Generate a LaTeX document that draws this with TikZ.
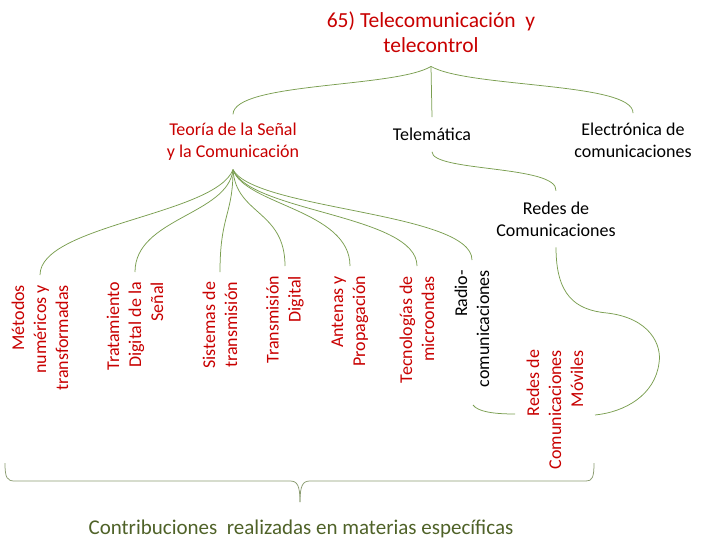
\documentclass[tikz,border=0pt]{standalone}
\usepackage{fontspec}
\setmainfont{Carlito}
\definecolor{rojotexto}{HTML}{C80000}
\definecolor{verdelinea}{HTML}{7A9E50}
\definecolor{verdegris}{HTML}{8A9B70}
\definecolor{verdeoscuro}{HTML}{4F6228}
\tikzset{
	rama/.style={draw=verdelinea, line width=0.75pt},
	cuerpo/.style={inner sep=0pt, align=center, font=\fontsize{18}{22}\selectfont},
	rojo/.style={cuerpo, text=rojotexto},
	negro/.style={cuerpo, text=black},
	etiqvert/.style={cuerpo, rotate=90, anchor=east, align=right, outer xsep=10pt, outer ysep=0pt},
}

\begin{document}
\begin{tikzpicture}[x=1pt, y=-1pt]
	%%%%% START %%%%%
	\useasboundingbox (0,0) rectangle (719,554);
	
	\node[rojo, font=\fontsize{21.5}{25}\selectfont, outer sep=14pt] (tele) at (431,32) {65) Telecomunicación\ \ y\\telecontrol};
	
	\node[rojo, outer sep=9pt] (teoria) at (233,142) {Teoría de la Señal\\y la Comunicación};
	\node[negro, outer sep=11pt] (telematica) at (432,134.5) {Telemática};
	\node[negro, outer sep=9.5pt] (electronica) at (633,140) {Electrónica de\\comunicaciones};
	\node[negro, outer sep=11pt] (redes) at (556,219) {Redes de\\Comunicaciones};
	
	\draw[rama] (tele.south) .. controls (395,88) and (234,82) .. (teoria.north);
	\draw[rama] (tele.south) -- (telematica.north);
	\draw[rama] (tele.south) .. controls (469,88) and (634,82) .. (electronica.north);
	\draw[rama] (telematica.south) .. controls (432,172) and (558,165) .. (redes.north);
	
	\node[etiqvert, text=rojotexto] (metodos) at (40,275) {Métodos\\numéricos y\\transformadas};
	\node[etiqvert, text=rojotexto] (tratamiento) at (135,272) {Tratamiento\\Digital de la\\Señal};
	\node[etiqvert, text=rojotexto] (sistemas) at (220,272) {Sistemas de\\transmisión};
	\node[etiqvert, text=rojotexto] (transmision) at (285,266) {Transmisión\\Digital};
	\node[etiqvert, text=rojotexto] (antenas) at (350,266) {Antenas y\\Propagación};
	\node[etiqvert, text=rojotexto] (tecnologias) at (417,266) {Tecnologías de\\microondas};
	\node[etiqvert, text=black] (radio) at (472,260) {Radio-\\comunicaciones};
	\node[etiqvert, text=rojotexto] (moviles) at (555,340) {Redes de\\Comunicaciones\\Móviles};
	
	\draw[rama] (teoria.south) .. controls (215,215) and (40,225) .. (metodos.east);
	\draw[rama] (teoria.south) .. controls (228,215) and (135,218) .. (tratamiento.east);
	\draw[rama] (teoria.south) .. controls (233,215) and (220,215) .. (sistemas.east);
	\draw[rama] (teoria.south) .. controls (236,215) and (285,210) .. (transmision.east);
	\draw[rama] (teoria.south) .. controls (245,205) and (350,210) .. (antenas.east);
	\draw[rama] (teoria.south) .. controls (250,212) and (417,215) .. (tecnologias.east);
	\draw[rama] (teoria.south) .. controls (255,210) and (472,212) .. (radio.east);
	
	% corchete de redes moviles
	\coordinate (corchizq) at (473,405);
	\coordinate (corchizqfin) at (515,414);
	\coordinate (corchmed) at (607,313);
	\coordinate (corchlado) at (659,363);
	\coordinate (corchder) at (595,415);
	\draw[rama] (corchizq) .. controls (478,412) and (495,414) .. (corchizqfin);
	\draw[rama] (redes.south) .. controls (556,295) and (575,310) .. (corchmed) .. controls (650,318) and (662,345) .. (corchlado) .. controls (655,395) and (625,412) .. (corchder);
	
	% llave inferior
	\coordinate (llaveizq) at (5,463);
	\coordinate (llavepunta) at (300,502);
	\coordinate (llaveder) at (594,463);
	\draw[rama, draw=verdegris] (llaveizq) .. controls (5,478) and (7,481) .. (15,481) -- (290,481) .. controls (297,481) and (300,485) .. (llavepunta);
	\draw[rama, draw=verdegris] (llavepunta) .. controls (300,485) and (303,481) .. (310,481) -- (586,481) .. controls (592,481) and (594,478) .. (llaveder);
	
	\node[cuerpo, text=verdeoscuro, font=\fontsize{21}{25}\selectfont] (pie) at (301,529) {Contribuciones\ \ realizadas en materias específicas};
	
	%%%%% END %%%%%
\end{tikzpicture}
\end{document}
